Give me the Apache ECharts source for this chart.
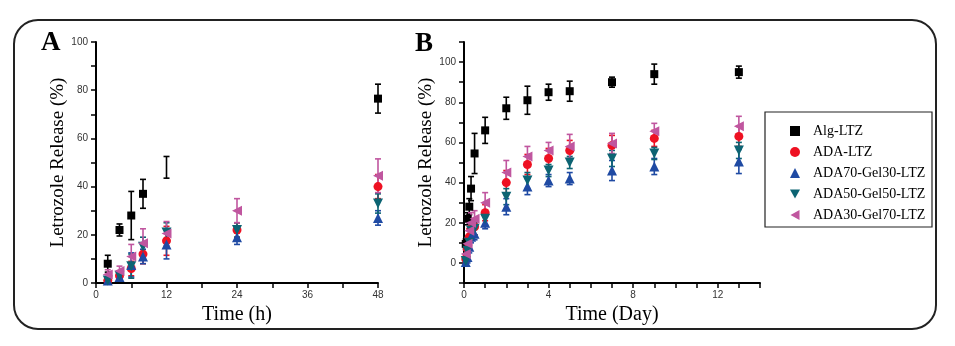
<!DOCTYPE html>
<html>
<head>
<meta charset="utf-8">
<script src="https://cdn.jsdelivr.net/npm/echarts@6/dist/echarts.min.js"></script>
<style>
html,body{margin:0;padding:0;background:#fff;}
#chart{width:955px;height:346px;}
</style>
</head>
<body>
<div id="chart"></div>
<script>
// ---------- data ----------
const seriesNames = ['Alg-LTZ', 'ADA-LTZ', 'ADA70-Gel30-LTZ', 'ADA50-Gel50-LTZ', 'ADA30-Gel70-LTZ'];

// Panel A: time in hours
const timeA = [2, 4, 6, 8, 12, 24, 48];
const algA     = [8, 22, 28, 37, 48, null, 76.5];
const algAErr  = [3.5, 2.5, 10, 6, 4.5, null, 6];
const adaA     = [1, 3, 6, 12, 17.5, 22, 40];
const adaAErr  = [1.5, 1.5, 3, 4, 6, 3, 5];
const ada70A   = [1, 2.5, 7.5, 11, 16, 19, 27];
const ada70AErr= [1.5, 1.5, 5, 3, 6, 3, 3];
const ada50A   = [1, 3, 7, 15, 21, 22, 33];
const ada50AErr= [1, 2, 5, 4, 4, 3, 4];
const ada30A   = [3.5, 5, 11, 16.5, 20.5, 30, 44.5];
const ada30AErr= [2, 2, 5, 6, 5, 5, 7];

// Panel B: time in days
const timeB = [0.083, 0.167, 0.25, 0.333, 0.5, 1, 2, 3, 4, 5, 7, 9, 13];
const algB     = [9.5, 22, 28, 37, 54.5, 66, 77, 81, 85, 85.5, 90, 94, 95];
const algBErr  = [2.5, 3, 4, 6, 10, 6.5, 5.5, 7, 4, 5, 2.5, 5, 3];
const adaB     = [2, 7, 13, 17, 18, 25, 40, 49, 52, 56, 58.5, 62, 63];
const adaBErr  = [2, 3, 4, 4, 4, 4, 6, 5, 5, 5, 5, 4, 5];
const ada70B   = [0.5, 3, 8, 13, 14.5, 20, 28, 38, 41, 42, 46, 48, 50.5];
const ada70BErr= [2, 3, 3, 3, 3, 3, 4, 4, 3, 3, 5, 4, 6];
const ada50B   = [1, 6, 10, 16, 17, 22, 33, 41, 46, 50, 52, 54.5, 56];
const ada50BErr= [2, 3, 3, 3, 3, 3, 4, 4, 3, 3, 4, 3, 4];
const ada30B   = [4.5, 9.5, 16, 20, 22, 30, 45, 53, 56, 58, 59.5, 65.5, 68];
const ada30BErr= [2, 3, 4, 5, 4, 5, 6, 5, 4, 6, 5, 4, 5];

// tick labels
const yTicksA = [0, 20, 40, 60, 80, 100];
const xTicksA = [0, 12, 24, 36, 48];
const yTicksB = [0, 20, 40, 60, 80, 100];
const xTicksB = [0, 4, 8, 12];

// ---------- styling ----------
const colors = ['#000000', '#ee1122', '#1f4aa3', '#0c6473', '#c0569f'];
const symbols = ['rect', 'circle', 'triangle', 'triangle', 'triangle'];
const rotates = [0, 0, 0, 180, 90];
const sizes = [8, 9, 10, 10, 10];
const legendIcons = ['rect', 'circle', 'triangle', 'path://M0,0L10,0L5,9Z', 'path://M9,0L9,10L0,5Z'];
// Alg-LTZ point at 12 h shows only its error bar in the reference
const hiddenMarkerA = {0: [4]};

const serif = 'Liberation Serif';
const sans = 'Liberation Sans';

const dataA = [[algA, algAErr], [adaA, adaAErr], [ada70A, ada70AErr], [ada50A, ada50AErr], [ada30A, ada30AErr]];
const dataB = [[algB, algBErr], [adaB, adaBErr], [ada70B, ada70BErr], [ada50B, ada50BErr], [ada30B, ada30BErr]];

function errSeries(idx, gridIdx, times, vals, errs) {
  const d = [];
  times.forEach((t, i) => { if (vals[i] != null) d.push([t, vals[i], errs[i]]); });
  return {
    type: 'custom', xAxisIndex: gridIdx, yAxisIndex: gridIdx, z: 2,
    data: d, silent: true,
    renderItem: function (params, api) {
      const x = api.value(0), y = api.value(1), e = api.value(2);
      const top = api.coord([x, y + e]);
      const bot = api.coord([x, y - e]);
      const hw = 3;
      const st = { stroke: colors[idx], lineWidth: 1.6 };
      return {
        type: 'group',
        children: [
          { type: 'line', shape: { x1: top[0], y1: top[1], x2: bot[0], y2: bot[1] }, style: st },
          { type: 'line', shape: { x1: top[0] - hw, y1: top[1], x2: top[0] + hw, y2: top[1] }, style: st },
          { type: 'line', shape: { x1: bot[0] - hw, y1: bot[1], x2: bot[0] + hw, y2: bot[1] }, style: st }
        ]
      };
    }
  };
}

function ptSeries(idx, gridIdx, times, vals, hidden) {
  const d = [];
  times.forEach((t, i) => {
    if (vals[i] == null) return;
    if (hidden && hidden.indexOf(i) >= 0) d.push({ value: [t, vals[i]], symbolSize: 0 });
    else d.push([t, vals[i]]);
  });
  return {
    name: seriesNames[idx], type: 'scatter', xAxisIndex: gridIdx, yAxisIndex: gridIdx, z: 3,
    symbol: symbols[idx], symbolRotate: rotates[idx], symbolSize: sizes[idx],
    itemStyle: { color: colors[idx], opacity: 1 },
    data: d
  };
}

const series = [];
dataA.forEach((p, i) => { series.push(errSeries(i, 0, timeA, p[0], p[1])); });
dataA.forEach((p, i) => { series.push(ptSeries(i, 0, timeA, p[0], hiddenMarkerA[i])); });
dataB.forEach((p, i) => { series.push(errSeries(i, 1, timeB, p[0], p[1])); });
dataB.forEach((p, i) => { series.push(ptSeries(i, 1, timeB, p[0], null)); });

const axisLine = { show: true, onZero: false, lineStyle: { color: '#000', width: 2 } };
const tickStyle = { show: true, inside: false, length: 5, lineStyle: { color: '#000', width: 1.5 } };
const labelStyle = { color: '#333', fontFamily: sans, fontSize: 10 };
const nameStyle = { color: '#000', fontFamily: serif, fontSize: 19 };

function only(list) { return v => (list.indexOf(v) >= 0 ? String(v) : ''); }

const option = {
  animation: false,
  backgroundColor: '#fff',
  grid: [
    { left: 96, top: 42, width: 282, height: 241 },
    { left: 464, top: 42, width: 296, height: 241 }
  ],
  xAxis: [
    { type: 'value', gridIndex: 0, min: 0, max: 48, interval: 6,
      axisLine, axisTick: tickStyle, splitLine: { show: false },
      axisLabel: Object.assign({ margin: 7, formatter: only(xTicksA), showMinLabel: true, showMaxLabel: true }, labelStyle),
      name: 'Time (h)', nameLocation: 'middle', nameGap: 22, nameTextStyle: Object.assign({}, nameStyle, { fontSize: 20 }) },
    { type: 'value', gridIndex: 1, min: 0, max: 14, interval: 1,
      axisLine, axisTick: tickStyle, splitLine: { show: false },
      axisLabel: Object.assign({ margin: 7, formatter: only(xTicksB), showMinLabel: true, showMaxLabel: true }, labelStyle),
      name: 'Time (Day)', nameLocation: 'middle', nameGap: 22, nameTextStyle: Object.assign({}, nameStyle, { fontSize: 20 }) }
  ],
  yAxis: [
    { type: 'value', gridIndex: 0, min: 0, max: 100, interval: 10,
      axisLine, axisTick: tickStyle, splitLine: { show: false },
      axisLabel: Object.assign({ margin: 8, formatter: only(yTicksA) }, labelStyle),
      name: 'Letrozole Release (%)', nameLocation: 'middle', nameGap: 23, nameTextStyle: nameStyle },
    { type: 'value', gridIndex: 1, min: -10, max: 110, interval: 10,
      axisLine, axisTick: tickStyle, splitLine: { show: false },
      axisLabel: Object.assign({ margin: 8, formatter: only(yTicksB) }, labelStyle),
      name: 'Letrozole Release (%)', nameLocation: 'middle', nameGap: 21, nameTextStyle: nameStyle }
  ],
  legend: {
    data: seriesNames.map((n, i) => ({ name: n, icon: legendIcons[i] })),
    orient: 'vertical', left: 785, top: 119,
    itemWidth: 10, itemHeight: 10, itemGap: 7,
    textStyle: { fontFamily: serif, fontSize: 14, color: '#000', padding: [0, 0, 0, 8] }
  },
  graphic: [
    { type: 'rect', shape: { x: 14, y: 20, width: 922, height: 309, r: 24 },
      style: { fill: 'none', stroke: '#222', lineWidth: 2 }, silent: true, z: 0 },
    { type: 'rect', shape: { x: 765, y: 112, width: 167, height: 115 },
      style: { fill: 'none', stroke: '#222', lineWidth: 1.2 }, silent: true },
    { type: 'text', left: 41, top: 30, style: { text: 'A', font: 'bold 27px "Liberation Serif"', fill: '#000' } },
    { type: 'text', left: 415, top: 31, style: { text: 'B', font: 'bold 27px "Liberation Serif"', fill: '#000' } }
  ],
  series
};

const chart = echarts.init(document.getElementById('chart'), null, { renderer: 'canvas' });
chart.setOption(option);
</script>
</body>
</html>
